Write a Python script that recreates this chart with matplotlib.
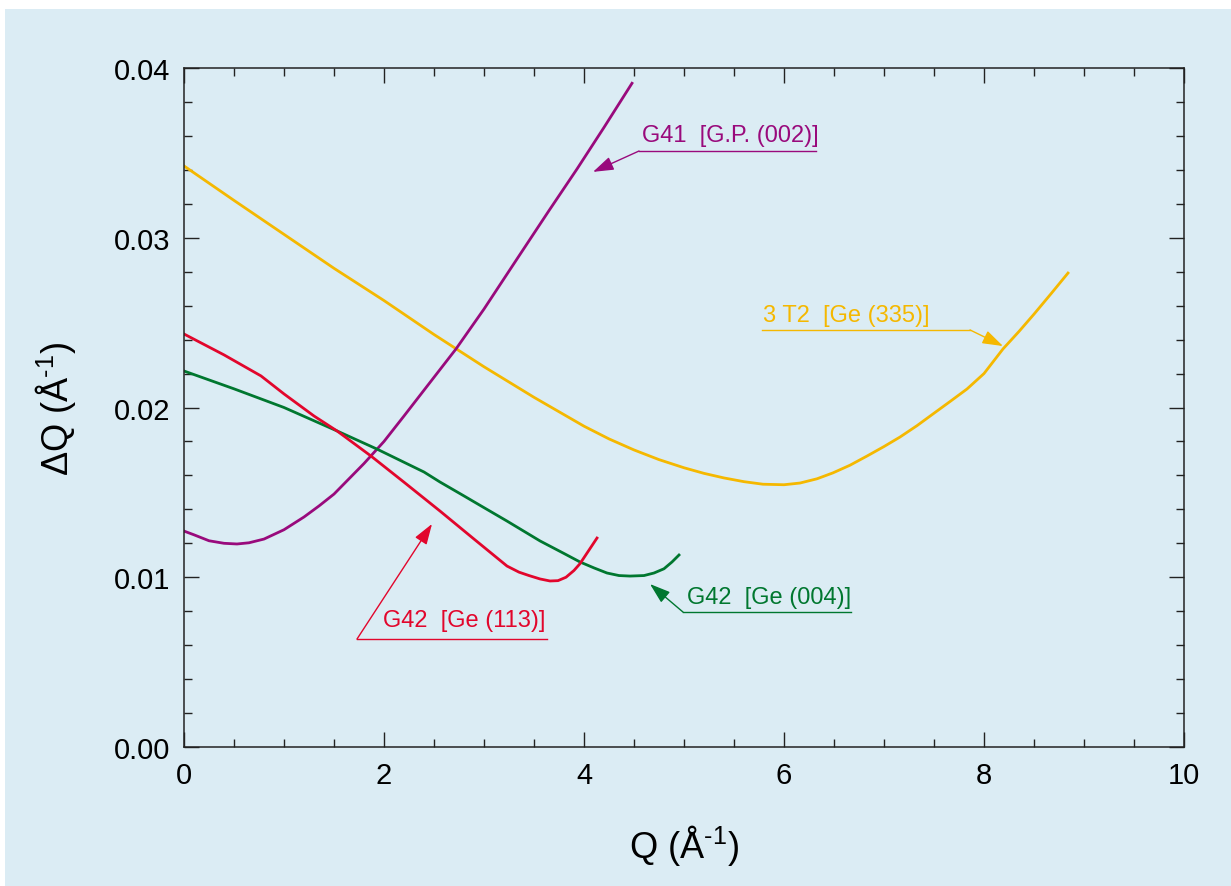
import numpy as np
import matplotlib
matplotlib.use("Agg")
import matplotlib.pyplot as plt
from matplotlib.patches import Rectangle
from matplotlib.ticker import MultipleLocator, FormatStrFormatter

# --- data (Q in 1/A, dQ in 1/A) ---
g41_q = [0, 0.1, 0.25, 0.4, 0.53, 0.65, 0.8, 1.0, 1.2, 1.35, 1.5, 1.65, 1.8, 2.0, 2.2, 2.45, 2.72,
         3.0, 3.33, 3.65, 3.93, 4.2, 4.48]
g41_dq = [0.01272, 0.0125, 0.01215, 0.0120, 0.01196, 0.01203, 0.01225, 0.0128, 0.01355, 0.0142,
          0.0149, 0.0158, 0.0167, 0.0180, 0.0195, 0.0214, 0.02345, 0.0258, 0.02875, 0.0316, 0.03405,
          0.0365, 0.0391]

g42_113_q = [0, 0.4, 0.77, 1.0, 1.3, 1.53, 1.87, 2.2, 2.56, 2.9, 3.23, 3.35, 3.45, 3.56, 3.66, 3.74,
             3.82, 3.9, 3.96, 4.05, 4.13]
g42_113_dq = [0.02433, 0.0231, 0.02186, 0.0208, 0.0195, 0.01862, 0.01714, 0.0156, 0.0139, 0.01225,
              0.01066, 0.0103, 0.0101, 0.0099, 0.00978, 0.0098, 0.0100, 0.0104, 0.0108, 0.0116, 0.01231]

g42_004_q = [0, 0.5, 1.0, 1.53, 1.93, 2.4, 2.56, 2.8, 3.0, 3.23, 3.56, 3.8, 3.96, 4.1, 4.23, 4.35,
             4.46, 4.6, 4.7, 4.8, 4.88, 4.95]
g42_004_dq = [0.02215, 0.0211, 0.0200, 0.01862, 0.01755, 0.0162, 0.01561, 0.01479, 0.0141, 0.01331,
              0.01214, 0.0114, 0.0109, 0.01055, 0.01025, 0.0101, 0.01007, 0.0101, 0.01025, 0.0105,
              0.0109, 0.01131]

t2_q = [0, 0.5, 1.0, 1.5, 2.0, 2.5, 3.0, 3.5, 4.0, 4.25, 4.5, 4.75, 5.0, 5.2, 5.4, 5.6, 5.79, 6.0,
        6.16, 6.33, 6.49, 6.66, 6.83, 7.0, 7.16, 7.33, 7.49, 7.66, 7.83, 8.0, 8.19, 8.35, 8.5, 8.67, 8.84]
t2_dq = [0.03423, 0.0322, 0.0302, 0.0282, 0.0263, 0.0243, 0.0224, 0.0206, 0.0189, 0.01815, 0.0175,
         0.01693, 0.01645, 0.01612, 0.01585, 0.01563, 0.01548, 0.01545, 0.01555, 0.0158, 0.01615,
         0.0166, 0.01714, 0.0177, 0.01826, 0.01893, 0.01962, 0.02035, 0.02109, 0.0220, 0.02345,
         0.02448, 0.0255, 0.0267, 0.02792]

# label text, text anchor (left, baseline), underline (x0, x1, y), arrow tip
labels = ["G41  [G.P. (002)]", "3 T2  [Ge (335)]", "G42  [Ge (113)]", "G42  [Ge (004)]"]
label_xy = [(4.58, 0.0357), (5.79, 0.0251), (1.99, 0.00713), (5.03, 0.00848)]
underline = [(4.55, 6.32, 0.03511), (5.78, 7.86, 0.02457), (1.73, 3.63, 0.00636), (4.99, 6.67, 0.00795)]
arrow_from = [(4.55, 0.03511), (7.86, 0.02457), (1.73, 0.00636), (4.99, 0.00795)]
arrow_tip = [(4.09, 0.03388), (8.19, 0.02362), (2.48, 0.01314), (4.66, 0.0096)]

# --- style ---
BG = "#dbecf4"
PURPLE = "#990a7c"
YELLOW = "#f5b800"
RED = "#e2062c"
GREEN = "#00772f"
label_colors = [PURPLE, YELLOW, RED, GREEN]

plt.rcParams.update({
    "font.family": ["Liberation Sans", "DejaVu Sans"],
    "mathtext.fontset": "custom",
    "mathtext.rm": "Liberation Sans",
    "mathtext.default": "regular",
})

fig = plt.figure(figsize=(12.31, 8.87), dpi=100, facecolor="white")
# light blue panel, leaving a thin white strip at top and left
fig.patches.append(Rectangle((5 / 1231, 0), 1, 1 - 10 / 887, transform=fig.transFigure,
                             facecolor=BG, edgecolor="none", zorder=-10))
ax = fig.add_axes([184 / 1231, 1 - 748 / 887, 1000 / 1231, 679 / 887])
ax.set_facecolor(BG)

ax.plot(t2_q, t2_dq, color=YELLOW, lw=2)
ax.plot(g41_q, g41_dq, color=PURPLE, lw=2)
ax.plot(g42_004_q, g42_004_dq, color=GREEN, lw=2)
ax.plot(g42_113_q, g42_113_dq, color=RED, lw=2)

for txt, (tx, ty), (u0, u1, uy), start, tip, c in zip(labels, label_xy, underline, arrow_from, arrow_tip, label_colors):
    ax.text(tx, ty, txt, color=c, fontsize=17, ha="left", va="baseline")
    ax.plot([u0, u1], [uy, uy], color=c, lw=1)
    ax.annotate("", xy=tip, xytext=start,
                arrowprops=dict(arrowstyle="-|>,head_length=0.9,head_width=0.3", color=c, lw=1,
                                mutation_scale=14, shrinkA=0, shrinkB=0))

ax.set_xlim(0, 10)
ax.set_ylim(0, 0.04)
ax.xaxis.set_major_locator(MultipleLocator(2))
ax.xaxis.set_minor_locator(MultipleLocator(0.5))
ax.yaxis.set_major_locator(MultipleLocator(0.01))
ax.yaxis.set_minor_locator(MultipleLocator(0.002))
ax.yaxis.set_major_formatter(FormatStrFormatter("%.2f"))

ax.tick_params(which="both", direction="in", top=True, right=True, color="#222222", width=1)
ax.tick_params(which="major", length=11, labelsize=21)
ax.tick_params(axis="x", which="major", pad=10)
ax.tick_params(axis="y", which="major", pad=10)
ax.tick_params(which="minor", length=6)
for s in ax.spines.values():
    s.set_linewidth(1.1)
    s.set_color("#222222")

ax.set_xlabel(r"Q (Å$^{\text{-1}}$)", fontsize=26)
ax.set_ylabel(r"ΔQ (Å$^{\text{-1}}$)", fontsize=26)
ax.xaxis.label.set_va("center")
ax.yaxis.label.set_va("center")
ax.xaxis.set_label_coords(0.5, -0.143)
ax.yaxis.set_label_coords(-0.129, 0.5)

fig.savefig("out.png", dpi=100, facecolor=fig.get_facecolor())
